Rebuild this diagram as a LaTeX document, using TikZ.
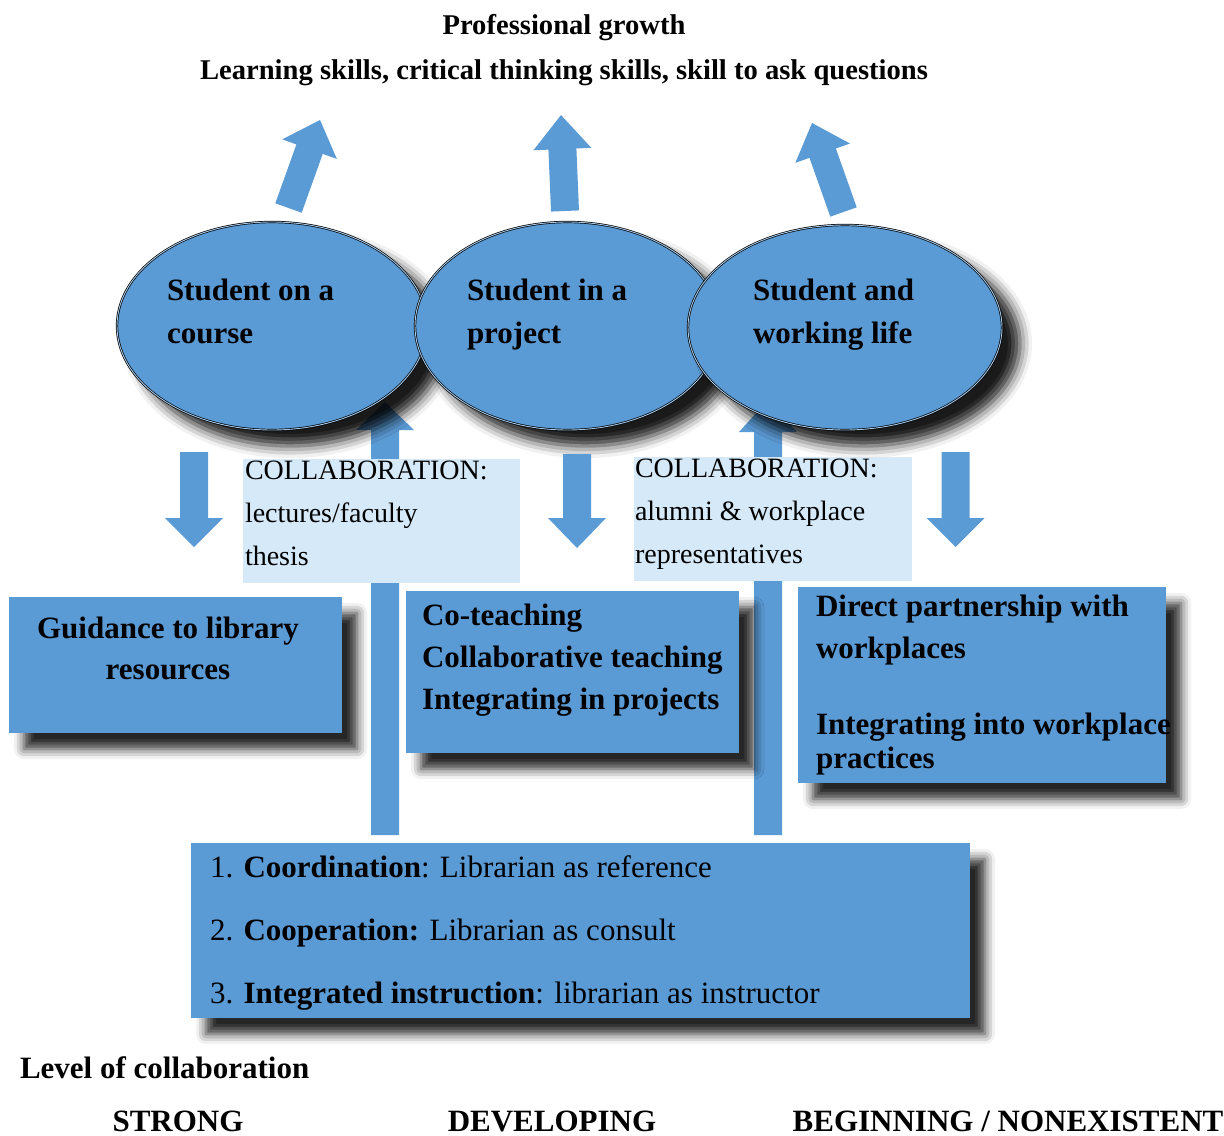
\documentclass[tikz,border=0pt]{standalone}
\usepackage{fontspec}
\setmainfont{Liberation Serif}
\usetikzlibrary{shapes.geometric,shadows.blur,fit}
\definecolor{boxblue}{HTML}{5B9BD5}
\definecolor{lightblue}{HTML}{D5E9F8}
% block arrow: base x, base y, angle, length, head length
\newcommand\blockarr[5]{%
  \begin{scope}[shift={(#1,#2)},rotate=#3]
    \fill[boxblue] (0,-14) -- ({#4-#5},-14) -- ({#4-#5},-29) -- (#4,0)
      -- ({#4-#5},29) -- ({#4-#5},14) -- (0,14) -- cycle;
  \end{scope}}
\begin{document}
\begin{tikzpicture}[x=0.5pt,y=-0.5pt,
  every node/.style={inner sep=0pt,outer sep=0pt},
  shd/.style={blur shadow={shadow xshift=7.5pt,shadow yshift=-8pt,
      shadow blur radius=5pt,shadow opacity=85}},
  eshd/.style={blur shadow={shadow xshift=9pt,shadow yshift=-8pt,
      shadow blur radius=6pt,shadow opacity=90}},
  ell/.style={ellipse,fill=boxblue,draw=black,double=boxblue!55!white,
      double distance=0.45pt,line width=0.35pt,eshd},
  bluebox/.style={rectangle,fill=boxblue,shd},
  collabbox/.style={rectangle,fill=lightblue},
  ltxt/.style={anchor=base west,align=left},
  ctxt/.style={anchor=base,align=center},
  bigbold/.style={font=\bfseries\fontsize{15.5}{21.5}\selectfont},
  titlefont/.style={font=\bfseries\fontsize{14.3}{22.5}\selectfont},
  collabfont/.style={font=\fontsize{14}{21.5}\selectfont},
]
\path[use as bounding box] (0,0) rectangle (1224,1135);

% titles (anchor = baseline of last line)
\node[ctxt,titlefont] (title) at (564,79)
  {Professional growth\\Learning skills, critical thinking skills, skill to ask questions};

% top arrows
\blockarr{288.5}{208}{70.3}{93.5}{31}
\blockarr{565}{211}{92.4}{96}{34}
\blockarr{843.5}{212}{109.5}{94.4}{32}

% long up arrows (behind ellipses)
\blockarr{385}{835}{90}{433}{28}
\blockarr{768}{835}{90}{435}{32}

% ellipses
\node[ell,minimum width=155pt,minimum height=104pt] (e1) at (272,326) {};
\node[ell,minimum width=152.5pt,minimum height=104pt] (e2) at (567.5,326) {};
\node[ell,minimum width=157pt,minimum height=102.5pt] (e3) at (845,327.5) {};
\node[ltxt,bigbold] (e1t) at (167,343) {Student on a\\course};
\node[ltxt,bigbold] (e2t) at (467,343) {Student in a\\project};
\node[ltxt,bigbold] (e3t) at (753,343) {Student and\\working life};

% down arrows
\blockarr{194}{452}{-90}{95}{29}
\blockarr{577}{454}{-90}{94}{30}
\blockarr{955.5}{452}{-90}{95}{29}

% collaboration boxes
\node[collabbox,fit={(243,459)(520,583)}] (c1) {};
\node[ltxt,collabfont] (c1t) at (245,565) {COLLABORATION:\\lectures/faculty\\thesis};
\node[collabbox,fit={(634,457)(912,581)}] (c2) {};
\node[ltxt,collabfont] (c2t) at (635,563) {COLLABORATION:\\alumni \& workplace\\representatives};

% blue boxes
\node[bluebox,fit={(9,597)(342,733)}] (b1) {};
\node[ctxt,font=\bfseries\fontsize{15.5}{20.5}\selectfont] (b1t) at (168,679)
  {Guidance to library\\resources};
\node[bluebox,fit={(406,591)(739,753)}] (b2) {};
\node[ltxt,font=\bfseries\fontsize{15.5}{21}\selectfont] (b2t) at (422,709)
  {Co-teaching\\Collaborative teaching\\Integrating in projects};
\node[bluebox,fit={(798,587)(1166,783)}] (b3) {};
\node[ltxt,font=\bfseries\fontsize{15.5}{21}\selectfont] (b3t) at (816,768)
  {Direct partnership with\\workplaces\\[17pt]Integrating into workplace\\[-4pt]practices};

\node[bluebox,fit={(191,843)(970,1018)}] (b4) {};
\node[ltxt,font=\fontsize{15.5}{31.5}\selectfont] (b4t) at (210,1003)
  {1. \textbf{Coordination}: Librarian as reference\\
   2. \textbf{Cooperation:} Librarian as consult\\
   3. \textbf{Integrated instruction}: librarian as instructor};

% bottom labels
\node[ltxt,font=\bfseries\fontsize{15.5}{20}\selectfont] (level) at (20,1078) {Level of collaboration};
\node[ctxt,font=\bfseries\fontsize{15.5}{20}\selectfont] (strong) at (178,1131) {STRONG};
\node[ctxt,font=\bfseries\fontsize{15.5}{20}\selectfont] (developing) at (552,1131) {DEVELOPING};
\node[ctxt,font=\bfseries\fontsize{15.5}{20}\selectfont] (beginning) at (1008,1131) {BEGINNING / NONEXISTENT};
\end{tikzpicture}
\end{document}
